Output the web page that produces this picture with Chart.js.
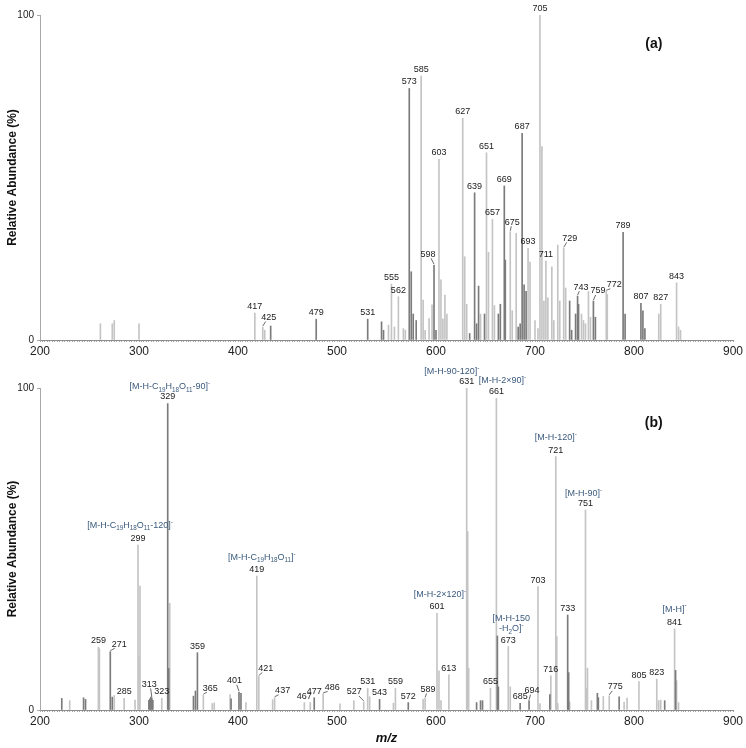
<!DOCTYPE html>
<html>
<head>
<meta charset="utf-8">
<script src="https://cdn.jsdelivr.net/npm/chart.js@4.4.1/dist/chart.umd.min.js"></script>
<style>
  html, body { margin: 0; padding: 0; background: #fff; }
  #wrap { position: relative; width: 746px; height: 748px; }
  .box { position: absolute; left: 0; width: 746px; }
</style>
</head>
<body>
<div id="wrap">
  <div class="box" style="top:0;height:362px"><canvas id="specA"></canvas></div>
  <div class="box" style="top:362px;height:386px"><canvas id="specB"></canvas></div>
</div>
<script>
// ---- panel (a) ----
const mzA_dark  = [433, 479, 531, 545, 547, 573, 575, 577, 580, 598, 600, 634, 639, 641, 643, 649, 663, 665, 669, 670, 683, 685, 687, 689, 691, 735, 737, 741, 743, 744, 759, 761, 789, 791, 807, 809, 811];
const intA_dark = [4.3, 6.4, 6.4, 5.6, 3, 77.4, 21, 8, 6, 23, 3, 2, 45.3, 5, 16.6, 8, 8, 11, 47.4, 24.6, 4, 5, 63.6, 17, 15, 12, 3, 8, 13.5, 11, 12, 7, 33.1, 8, 11.3, 9, 3.5];
const mzA_light  = [261, 273, 275, 300, 417, 425, 427, 552, 555, 558, 562, 567, 569, 585, 587, 589, 593, 596, 603, 605, 607, 609, 611, 627, 629, 631, 645, 651, 653, 657, 659, 675, 677, 681, 693, 695, 700, 703, 705, 707, 709, 711, 713, 717, 719, 723, 725, 729, 731, 747, 749, 751, 754, 756, 772, 773, 825, 827, 843, 845, 847];
const intA_light = [5, 5, 6, 5, 8.3, 4, 3, 4.6, 17.2, 4, 13.3, 3.5, 3, 81.2, 12.3, 3, 6.6, 10.8, 55.6, 18.5, 6.5, 13.8, 8, 68.2, 25.6, 11, 8, 57.6, 27, 37.1, 10.6, 33.3, 9, 32.8, 28.2, 24, 6, 3.5, 100, 59.5, 12, 24.3, 13, 22.5, 6, 29.2, 12, 28.2, 16, 8, 6, 5, 14.9, 7, 15, 14, 8, 11, 17.6, 4, 3];
const labelsA = [417, 425, 479, 531, 555, 562, 573, 585, 598, 603, 627, 639, 651, 657, 669, 675, 687, 693, 705, 711, 729, 743, 759, 772, 789, 807, 827, 843];

// ---- panel (b) ----
const mzB_dark  = [222, 244, 246, 271, 273, 310, 311, 312, 313, 314, 329, 330, 355, 357, 359, 393, 401, 403, 477, 543, 572, 641, 645, 647, 662, 663, 685, 694, 715, 733, 734, 763, 764, 785, 831, 842];
const intB_dark = [3.6, 3.8, 3.3, 18.1, 4, 3, 3.5, 4, 3.6, 3, 95.2, 12.9, 4.3, 5.9, 17.8, 3.5, 5.5, 5.2, 3.8, 3.3, 2.3, 2.3, 2.9, 2.9, 23, 7.2, 2.1, 2.9, 4.8, 29.5, 11.6, 5.2, 3.8, 4.1, 2.9, 12.3];
const mzB_light  = [230, 259, 260, 275, 285, 296, 299, 300, 301, 323, 331, 365, 374, 376, 392, 408, 419, 421, 435, 437, 467, 473, 486, 503, 517, 527, 531, 533, 557, 559, 587, 589, 601, 603, 605, 613, 631, 632, 633, 655, 661, 673, 675, 703, 705, 716, 721, 722, 723, 735, 751, 752, 753, 757, 769, 775, 790, 793, 805, 823, 825, 827, 841, 843, 845];
const intB_light = [2.9, 19.5, 19, 4.5, 3.6, 3.1, 51.2, 16.6, 38.5, 3.6, 33.1, 4.6, 2, 2.2, 4.8, 2.3, 41.6, 10.4, 3.2, 3.8, 2.3, 2.3, 5, 1.9, 2.9, 2.5, 6.7, 4.1, 2.1, 6.7, 3.3, 3.6, 30, 12.2, 2.9, 10.9, 100, 55.4, 13, 6.7, 96.8, 19.7, 7.2, 38.3, 2, 10.6, 78.7, 22.8, 2, 2.5, 62.1, 6.7, 13, 2.9, 4.2, 4.4, 2.4, 3.7, 8.8, 9.6, 2.9, 3.1, 25.2, 9.1, 2.3];
const labelsB = [259, 271, 285, 299, 313, 323, 329, 359, 365, 401, 419, 421, 437, 467, 477, 486, 527, 531, 543, 559, 572, 589, 601, 613, 631, 655, 661, 673, 685, 694, 703, 716, 721, 733, 751, 775, 805, 823, 841];

// fragment assignments (b)
const noteMzB = [329, 299, 419, 601, 631, 661, 721, 751, 673, 841];
const noteTextB = [
  "[M-H-C_{19}H_{18}O_{11}-90]^{-}",
  "[M-H-C_{19}H_{18}O_{11}-120]^{-}",
  "[M-H-C_{19}H_{18}O_{11}]^{-}",
  "[M-H-2\u00d7120]^{-}",
  "[M-H-90-120]^{-}",
  "[M-H-2\u00d790]^{-}",
  "[M-H-120]^{-}",
  "[M-H-90]^{-}",
  "[M-H-150\n-H_{2}O]^{-}",
  "[M-H]^{-}"
];

// label nudges (px) - labels with a nudge get a small leader line
const shiftA = {425: [6, -3], 598: [-6, -4.5], 675: [2, -3], 729: [6, -3.5], 743: [3.5, -2.5], 759: [4.5, -3.5], 772: [8, 0]};
const shiftB = {271: [9, -1], 313: [-2.5, -7.5], 365: [7, -0.5], 401: [-4.5, -5], 421: [7, -1.5], 437: [8, -0.5], 486: [9, 0], 527: [-9.5, -3.5], 589: [3, -2.5], 694: [3, -3.5], 775: [6, -2.5]};
const noteShiftB = {329: [2, -11], 299: [-8, -14], 419: [5, -13], 601: [3, -13], 631: [-15, -11], 661: [6, -12], 721: [0, -13], 751: [-2, -11], 673: [3, -22], 841: [0, -14]};

const FONT = '"Liberation Sans", Arial, sans-serif';
Chart.defaults.font.family = FONT;
Chart.defaults.color = '#222';

const panels = {
  specA: { dark: [mzA_dark, intA_dark], light: [mzA_light, intA_light], labels: labelsA, shift: shiftA, notes: {}, tag: '(a)', tagAt: [820, 91] },
  specB: { dark: [mzB_dark, intB_dark], light: [mzB_light, intB_light], labels: labelsB, shift: shiftB, notes: {}, tag: '(b)', tagAt: [820, 89] }
};
noteMzB.forEach((m, i) => { panels.specB.notes[m] = noteTextB[i]; });

function toPoints(mz, val) {
  return mz.map((m, i) => ({ x: m, y: val[i] }));
}

function heightAt(p, mz) {
  let h = 0;
  [p.dark, p.light].forEach(s => {
    const i = s[0].indexOf(mz);
    if (i >= 0) h = Math.max(h, s[1][i]);
  });
  return h;
}

function parseRich(s) {
  const out = [];
  const re = /([_^])\{([^}]*)\}/g;
  let last = 0, m;
  while ((m = re.exec(s))) {
    if (m.index > last) out.push({ t: s.slice(last, m.index), mode: 0 });
    out.push({ t: m[2], mode: m[1] === '_' ? 1 : 2 });
    last = re.lastIndex;
  }
  if (last < s.length) out.push({ t: s.slice(last), mode: 0 });
  return out;
}

function drawRich(ctx, s, cx, cy, size) {
  const parts = parseRich(s);
  const small = size * 0.7;
  let w = 0;
  parts.forEach(p => {
    ctx.font = (p.mode ? small : size) + 'px ' + FONT;
    p.w = ctx.measureText(p.t).width;
    w += p.w;
  });
  let x = cx - w / 2;
  ctx.textAlign = 'left';
  ctx.textBaseline = 'alphabetic';
  parts.forEach(p => {
    ctx.font = (p.mode ? small : size) + 'px ' + FONT;
    const dy = p.mode === 1 ? size * 0.28 : p.mode === 2 ? -size * 0.45 : 0;
    ctx.fillText(p.t, x, cy + size * 0.35 + dy);
    x += p.w;
  });
}

const peakLabels = {
  id: 'peakLabels',
  afterDatasetsDraw(chart) {
    const p = panels[chart.canvas.id];
    const ctx = chart.ctx, xs = chart.scales.x, ys = chart.scales.y;
    ctx.save();
    p.labels.forEach(mz => {
      const px = xs.getPixelForValue(mz);
      const top = ys.getPixelForValue(heightAt(p, mz));
      const sh = p.shift[mz] || [0, 0];
      const lx = px + sh[0], ly = top - 6.5 + sh[1];
      if (sh[0] || sh[1]) {
        ctx.strokeStyle = '#444';
        ctx.lineWidth = 0.8;
        ctx.beginPath();
        ctx.moveTo(px, top - 1);
        ctx.lineTo(px + sh[0] * 0.5, ly + 4);
        ctx.stroke();
      }
      ctx.fillStyle = '#1a1a1a';
      ctx.font = '9px ' + FONT;
      ctx.textAlign = 'center';
      ctx.textBaseline = 'middle';
      ctx.fillText(String(mz), lx, ly);

      const note = p.notes[mz];
      if (note) {
        const ns = noteShiftB[mz] || [0, -12];
        ctx.fillStyle = '#3a5a7c';
        note.split('\n').forEach((line, k) => {
          drawRich(ctx, line, lx + ns[0], ly + ns[1] + k * 10, 9);
        });
      }
    });
    ctx.fillStyle = '#111';
    ctx.font = 'bold 14px ' + FONT;
    ctx.textAlign = 'center';
    ctx.textBaseline = 'middle';
    ctx.fillText(p.tag, xs.getPixelForValue(p.tagAt[0]), ys.getPixelForValue(p.tagAt[1]));
    ctx.restore();
  }
};

function makeSpectrum(id, padTop, xHeight, showXTitle) {
  const p = panels[id];
  return new Chart(document.getElementById(id), {
    type: 'bar',
    data: {
      datasets: [
        { data: toPoints(p.dark[0], p.dark[1]), backgroundColor: '#7b7b7b' },
        { data: toPoints(p.light[0], p.light[1]), backgroundColor: '#c4c4c4' }
      ]
    },
    options: {
      responsive: true,
      maintainAspectRatio: false,
      animation: false,
      layout: { padding: { top: padTop, right: 13, left: 0, bottom: 0 } },
      datasets: { bar: { barThickness: 1, grouped: false, borderWidth: 0 } },
      plugins: { legend: { display: false }, tooltip: { enabled: false } },
      scales: {
        x: {
          type: 'linear',
          min: 200,
          max: 900,
          offset: false,
          grid: { drawOnChartArea: false, tickLength: 2, color: '#a8a8a8', offset: false },
          border: { color: '#8c8c8c' },
          ticks: {
            stepSize: 2.5,
            autoSkip: false,
            maxRotation: 0,
            padding: 2,
            color: '#222',
            font: { size: 12 },
            callback: v => (v % 100 === 0 ? String(v) : '')
          },
          title: {
            display: showXTitle,
            text: 'm/z',
            color: '#111',
            font: { size: 13, weight: 'bold', style: 'italic' },
            padding: { top: 0, bottom: 2 }
          },
          afterFit: s => { s.height = xHeight; }
        },
        y: {
          min: 0,
          max: 100,
          ticks: { stepSize: 100, padding: 3, color: '#222', font: { size: 10 } },
          grid: { drawOnChartArea: false, tickLength: 3, color: '#a8a8a8' },
          border: { color: '#a8a8a8' },
          title: {
            display: true,
            text: 'Relative Abundance (%)',
            color: '#111',
            font: { size: 12, weight: 'bold' },
            padding: { top: 5, bottom: 0 }
          },
          afterFit: s => { s.width = 40; }
        }
      }
    },
    plugins: [peakLabels]
  });
}

makeSpectrum('specA', 15, 22, false);
makeSpectrum('specB', 26, 38, true);
</script>
</body>
</html>
